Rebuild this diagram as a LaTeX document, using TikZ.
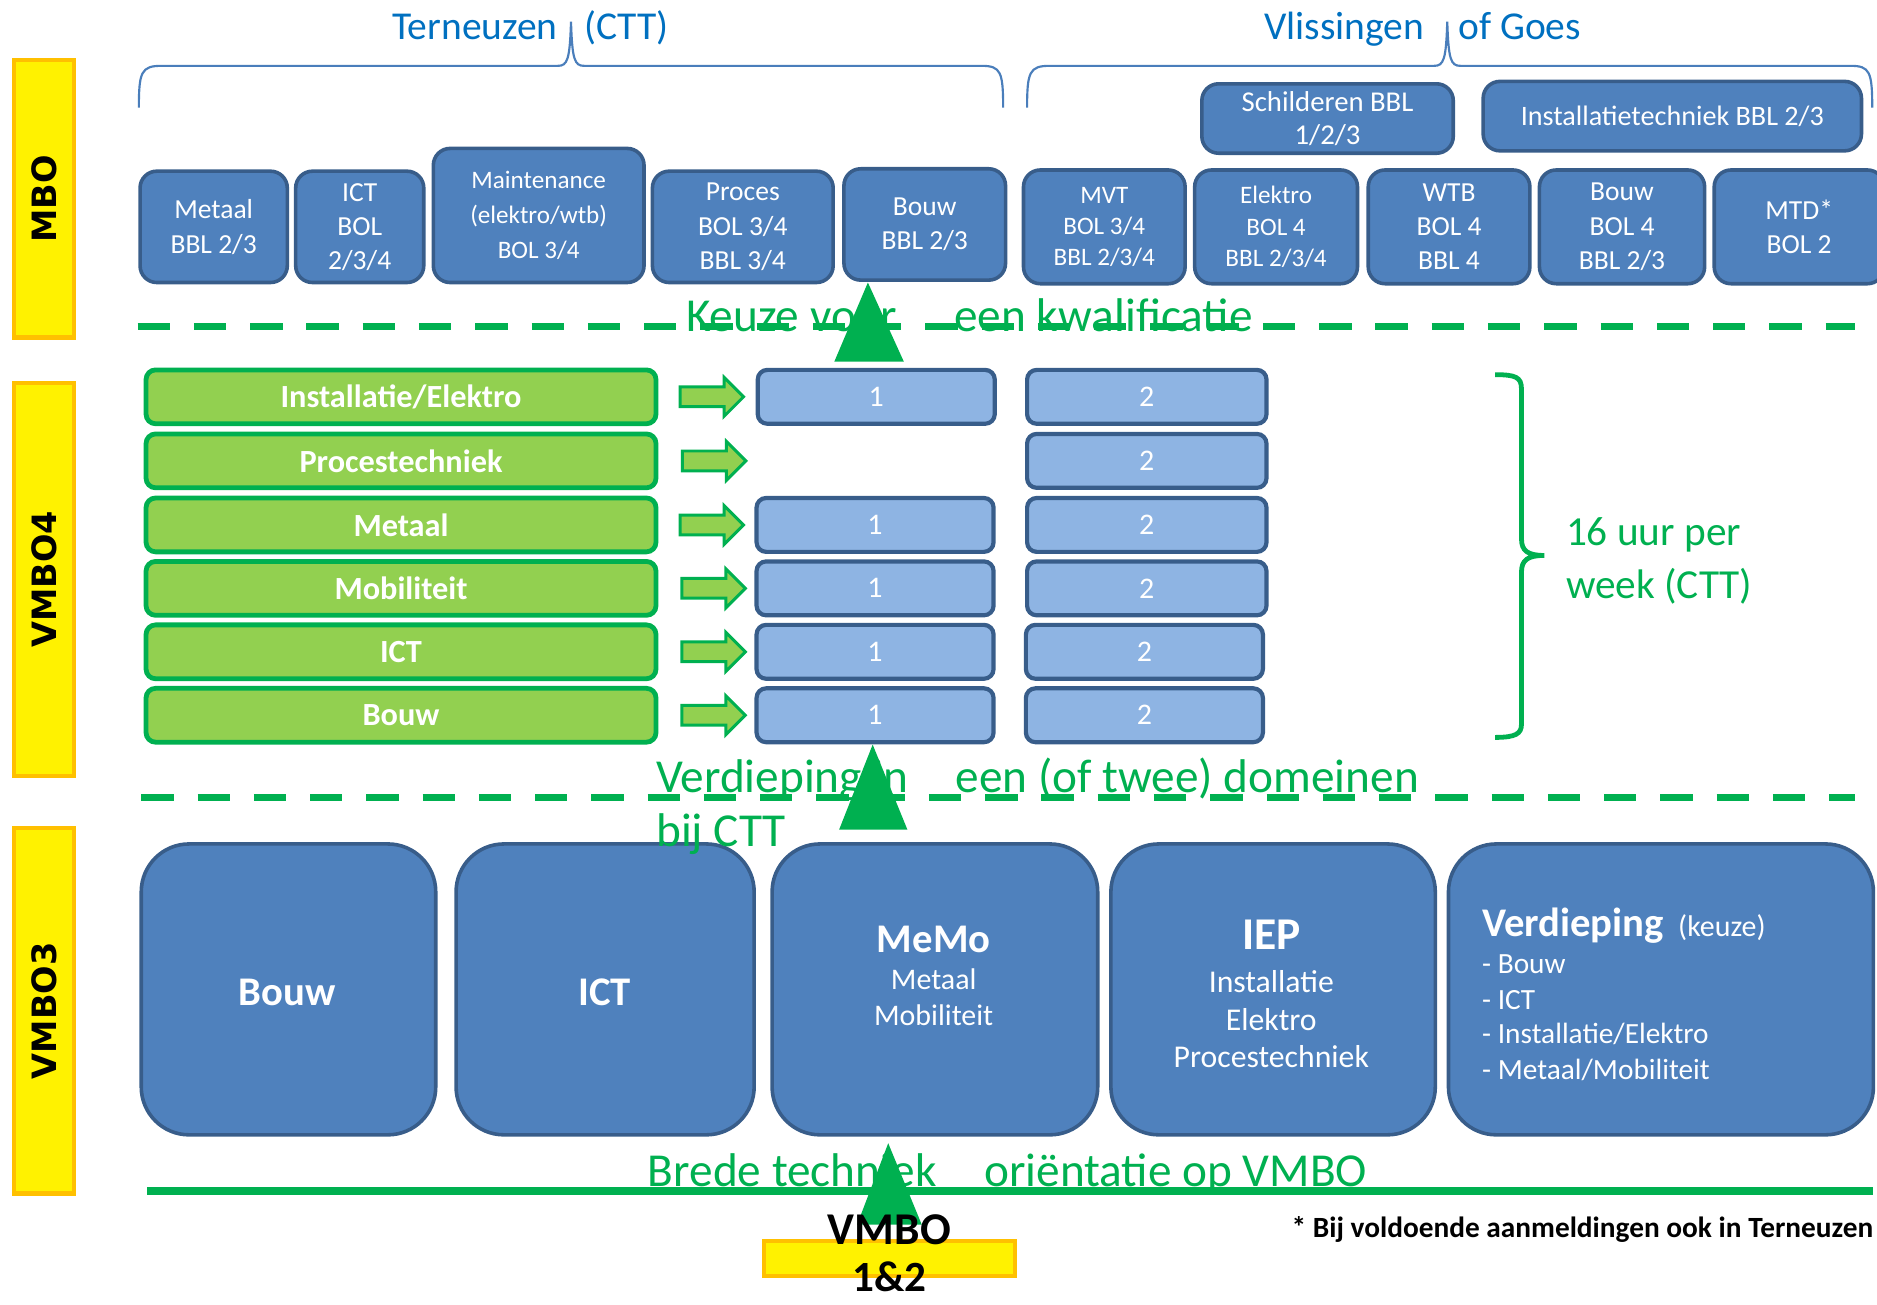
\documentclass[tikz,border=0pt]{standalone}
\usepackage{fontspec}
\setmainfont{Carlito}
\newfontfamily\labelfont{DejaVu Sans}
\usetikzlibrary{shapes.arrows,calc}
\definecolor{boxblue}{HTML}{4F81BD}
\definecolor{boxedge}{HTML}{385D8A}
\definecolor{lightblue}{HTML}{8EB4E3}
\definecolor{ogreen}{HTML}{00B050}
\definecolor{lgreen}{HTML}{92D050}
\definecolor{titleblue}{HTML}{0070C0}
\definecolor{bracelue}{HTML}{4A7EBB}
\definecolor{lblorange}{HTML}{FFC000}
\newcommand{\fsz}[2]{\fontsize{#1}{#2}\selectfont}
\begin{document}
\begin{tikzpicture}[x=1pt,y=-1pt,
  mbo/.style={draw=boxedge, fill=boxblue, line width=3pt, rounded corners=14pt, text=white, align=center, inner sep=0pt},
  gbox/.style={draw=ogreen, fill=lgreen, line width=4pt, rounded corners=8pt, text=white, font=\bfseries\fsz{27}{32}, minimum width=426pt, minimum height=45pt, inner sep=0pt},
  lbbox/.style={draw=boxedge, fill=lightblue, line width=3.5pt, rounded corners=8pt, text=white, font=\fsz{25}{28}, minimum height=45pt, inner sep=0pt},
  bigbox/.style={draw=boxedge, fill=boxblue, line width=3pt, rounded corners=40pt, minimum height=243pt, inner sep=0pt},
  ylabel/.style={draw=lblorange, fill=yellow, line width=3.5pt, inner sep=0pt},
  lbltext/.style={rotate=90, font=\labelfont\bfseries\fsz{28}{34}, text=black},
  arr/.style={single arrow, draw=ogreen, fill=lgreen, line width=2.5pt, minimum height=53pt, single arrow head extend=8pt, inner sep=7pt},
  gtext/.style={anchor=base west, text=ogreen, font=\fsz{39.5}{46}, inner sep=0pt},
  ttext/.style={text=titleblue, font=\fsz{33}{40}, inner sep=0pt},
  wtext/.style={text=white, inner sep=0pt, anchor=base},
  tri/.style={fill=ogreen}
]
\useasboundingbox (0,0) rectangle (1568,1090);

% ---------- side labels ----------
\node[ylabel, minimum width=50pt, minimum height=232pt] (lmbo) at (37,166) {};
\node[lbltext] (tmbo) at (lmbo) {MBO};
\node[ylabel, minimum width=50pt, minimum height=328pt] (lv4) at (37,484) {};
\node[lbltext] (tv4) at (lv4) {VMBO4};
\node[ylabel, minimum width=50pt, minimum height=305pt] (lv3) at (37,844.5) {};
\node[lbltext] (tv3) at (lv3) {VMBO3};

% ---------- titles and braces ----------
\node[ttext, anchor=base east] (tern) at (466,33) {Terneuzen};
\node[ttext, anchor=base west] (ctt) at (488,33) {(CTT)};
\node[ttext, anchor=base east] (vlis) at (1190,33) {Vlissingen};
\node[ttext, anchor=base west] (goes) at (1218,33) {of Goes};

\draw[bracelue, line width=1.8pt]
  (116,90) .. controls (116,60) and (118,55) .. (135,55) -- (466,55)
  .. controls (474,55) and (476,50) .. (477,18)
  .. controls (478,50) and (480,55) .. (488,55) -- (820,55)
  .. controls (836,55) and (838,60) .. (838,90);
\draw[bracelue, line width=1.8pt]
  (858,90) .. controls (858,60) and (860,55) .. (877,55) -- (1198,55)
  .. controls (1206,55) and (1208,50) .. (1209,18)
  .. controls (1210,50) and (1212,55) .. (1220,55) -- (1546,55)
  .. controls (1562,55) and (1564,60) .. (1564,90);

% ---------- MBO boxes ----------
\node[mbo, minimum width=210pt, minimum height=58pt, font=\fsz{24}{28}] (s1) at (1109,99) {Schilderen BBL\\1/2/3};
\node[mbo, minimum width=316pt, minimum height=58pt, font=\fsz{23.5}{28}] (s2) at (1397,97) {Installatietechniek BBL 2/3};

\node[mbo, minimum width=123pt, minimum height=93pt, font=\fsz{23}{29}] (m1) at (178.5,189.5) {Metaal\\BBL 2/3};
\node[mbo, minimum width=107pt, minimum height=93pt, font=\fsz{23}{28.5}] (m2) at (300.5,189.5) {ICT\\BOL\\2/3/4};
\node[mbo, minimum width=176pt, minimum height=112pt, font=\fsz{21}{29}] (m3) at (450,180) {Maintenance\\(elektro/wtb)\\BOL 3/4};
\node[mbo, minimum width=151pt, minimum height=93pt, font=\fsz{23}{28.5}] (m4) at (620.5,189.5) {Proces\\BOL 3/4\\BBL 3/4};
\node[mbo, minimum width=135pt, minimum height=93pt, font=\fsz{23}{28}] (m5) at (772.5,187.5) {Bouw\\BBL 2/3};
\node[mbo, minimum width=135pt, minimum height=95pt, font=\fsz{21}{26}] (m6) at (922.5,189.5) {MVT\\BOL 3/4\\BBL 2/3/4};
\node[mbo, minimum width=136pt, minimum height=95pt, font=\fsz{21}{26}] (m7) at (1066,189.5) {Elektro\\BOL 4\\BBL 2/3/4};
\node[mbo, minimum width=135pt, minimum height=95pt, font=\fsz{23}{28.5}] (m8) at (1210.5,189.5) {WTB\\BOL 4\\BBL 4};
\node[mbo, minimum width=138pt, minimum height=95pt, font=\fsz{23}{28.5}] (m9) at (1355,189.5) {Bouw\\BOL 4\\BBL 2/3};
\node[mbo, minimum width=142pt, minimum height=95pt, font=\fsz{23}{29}] (m10) at (1503,189.5) {MTD*\\BOL 2};

% ---------- dashed separator 1 ----------
\coordinate (d1a) at (115,273);
\coordinate (d1b) at (1550,273);
\draw[ogreen, line width=6pt, dash pattern=on 27pt off 20pt] (d1a) -- (d1b);
\node[gtext] (k1) at (573,277) {Keuze voor};
\node[gtext] (k2) at (797,277) {een kwalificatie};

% ---------- VMBO4 rows ----------
\foreach \nm/\txt/\yy in {g1/Installatie\slash Elektro/331.5, g2/Procestechniek/385, g3/Metaal/438.5, g4/Mobiliteit/491.5, g5/ICT/544.5, g6/Bouw/597.5}{
  \node[gbox] (\nm) at (335,\yy) {\txt};
}
\node[arr] (a1) at (590.5,331.5) {};
\node[arr] (a2) at (592.5,385) {};
\node[arr] (a3) at (590.5,438.5) {};
\node[arr] (a4) at (592,491.5) {};
\node[arr] (a5) at (592,544.5) {};
\node[arr] (a6) at (592,597.5) {};

\node[lbbox, minimum width=198pt] (b11) at (732,331.5) {1};
\node[lbbox, minimum width=198pt] (b13) at (731,438.5) {1};
\node[lbbox, minimum width=198pt] (b14) at (731,491.5) {1};
\node[lbbox, minimum width=198pt] (b15) at (731,544.5) {1};
\node[lbbox, minimum width=198pt] (b16) at (731,597.5) {1};

\node[lbbox, minimum width=200pt] (b21) at (958,331.5) {2};
\node[lbbox, minimum width=200pt] (b22) at (958,385) {2};
\node[lbbox, minimum width=200pt] (b23) at (958,438.5) {2};
\node[lbbox, minimum width=200pt] (b24) at (958,491.5) {2};
\node[lbbox, minimum width=198pt] (b25) at (956,544.5) {2};
\node[lbbox, minimum width=198pt] (b26) at (956,597.5) {2};

% green brace
\draw[ogreen, line width=4pt]
  (1249,313) .. controls (1266,313) and (1271,315) .. (1271,325) -- (1271,450)
  .. controls (1271,460) and (1276,464) .. (1290,464)
  .. controls (1276,464) and (1271,468) .. (1271,478) -- (1271,605)
  .. controls (1271,613) and (1266,616) .. (1249,616);
\node[anchor=base west, text=ogreen, font=\fsz{34.5}{40}, inner sep=0pt] (uur1) at (1308,456) {16 uur per};
\node[anchor=base west, text=ogreen, font=\fsz{34.5}{40}, inner sep=0pt] (uur2) at (1308,500) {week (CTT)};

% ---------- VMBO3 big boxes ----------
\node[bigbox, minimum width=246pt] (v1) at (241,826.5) {};
\node[bigbox, minimum width=249pt] (v2) at (505.5,826.5) {};
\node[bigbox, minimum width=272pt] (v3) at (781,826.5) {};
\node[bigbox, minimum width=271pt] (v4) at (1063.5,826.5) {};
\node[bigbox, minimum width=355pt] (v5) at (1387.5,826.5) {};

\node[text=white, font=\bfseries\fsz{34}{40}] (tv1) at (240,829) {Bouw};
\node[text=white, font=\bfseries\fsz{34}{40}] (tv2) at (505,829) {ICT};
\node[wtext, font=\bfseries\fsz{34}{40}] (memo) at (780,796) {MeMo};
\node[wtext, font=\fsz{25}{30}] (memo1) at (780,827) {Metaal};
\node[wtext, font=\fsz{25}{30}] (memo2) at (780,857) {Mobiliteit};
\node[wtext, font=\bfseries\fsz{38}{44}] (iep) at (1062,793) {IEP};
\node[wtext, font=\fsz{26.5}{31}] (iep1) at (1062,829.5) {Installatie};
\node[wtext, font=\fsz{26.5}{31}] (iep2) at (1062,860.5) {Elektro};
\node[wtext, font=\fsz{26.5}{31}] (iep3) at (1062,891.5) {Procestechniek};
\node[wtext, anchor=base west, font=\fsz{34}{40}] (verd) at (1238,782) {\textbf{Verdieping}\hspace{0.35em}{\fsz{25}{28}(keuze)}};
\node[wtext, anchor=base west, font=\fsz{24.5}{30}] (vl1) at (1238,813) {- Bouw};
\node[wtext, anchor=base west, font=\fsz{24.5}{30}] (vl2) at (1238,843) {- ICT};
\node[wtext, anchor=base west, font=\fsz{24.5}{30}] (vl3) at (1238,872) {- Installatie/Elektro};
\node[wtext, anchor=base west, font=\fsz{24.5}{30}] (vl4) at (1238,902) {- Metaal/Mobiliteit};

% ---------- dashed separator 2 ----------
\coordinate (d2a) at (118,666);
\coordinate (d2b) at (1550,666);
\draw[ogreen, line width=6pt, dash pattern=on 27pt off 20pt] (d2a) -- (d2b);
\node[gtext] (vd1) at (548,662) {Verdieping in};
\node[gtext] (vd2) at (798,662) {een (of twee) domeinen};
\node[gtext] (vd3) at (548,707) {bij CTT};

% ---------- bottom line ----------
\coordinate (sla) at (123,995);
\coordinate (slb) at (1565,995);
\draw[ogreen, line width=7pt] (sla) -- (slb);
\node[gtext] (br1) at (541,991) {Brede techniek};
\node[gtext] (br2) at (822,991) {oriëntatie op VMBO};

% ---------- VMBO 1&2 ----------
\node[ylabel, minimum width=210pt, minimum height=29pt] (v12) at (743,1051.5) {};

% ---------- triangles ----------
\coordinate (t1) at (725,236);
\fill[tri] (t1) -- (755,302) -- (697,302) -- cycle;
\coordinate (t2) at (729,622);
\fill[tri] (t2) -- (758,693) -- (701,693) -- cycle;
\coordinate (t3) at (742,955);
\fill[tri] (t3) -- (770,1023) -- (716,1023) -- cycle;

\node[anchor=base, inner sep=0pt, font=\bfseries\fsz{38}{44}] (v12a) at (743,1040) {VMBO};
\node[anchor=base, inner sep=0pt, font=\bfseries\fsz{36}{44}] (v12b) at (743,1079) {1\&2};

% footnote
\node[anchor=base east, inner sep=0pt, font=\bfseries\fsz{24.5}{28}] (fn) at (1565,1034) {* Bij voldoende aanmeldingen ook in Terneuzen};
\end{tikzpicture}
\end{document}
